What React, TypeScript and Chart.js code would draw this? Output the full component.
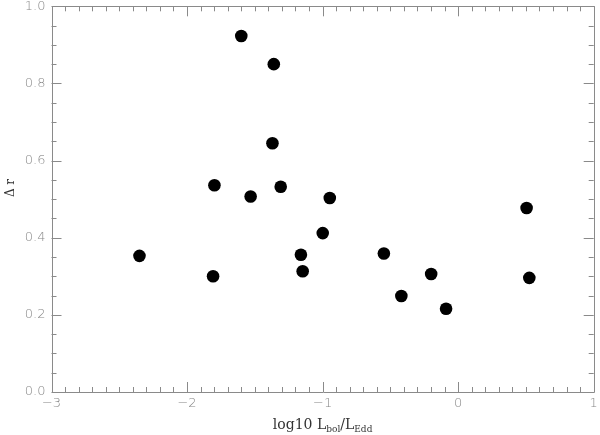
import React, { useEffect, useRef } from "react";
import { Chart, registerables } from "chart.js";

Chart.register(...registerables);

const xValues = [-2.351, -1.808, -1.798, -1.600, -1.531, -1.360, -1.370, -1.309, -1.160, -1.147, -0.999, -0.947, -0.548, -0.419, -0.199, -0.089, 0.505, 0.525];
const yValues = [0.353, 0.300, 0.536, 0.923, 0.507, 0.850, 0.645, 0.532, 0.356, 0.313, 0.412, 0.503, 0.359, 0.249, 0.306, 0.216, 0.477, 0.296];
const xRange = [-3, 1];
const yRange = [0, 1];
const xMajorStep = 1;
const xMinorStep = 0.1;
const yMajorStep = 0.2;
const yMinorStep = 0.05;

const AXIS_COLOR = "#8a8a8a";
const LABEL_COLOR = "#888888";
const TICK_FONT = "200 13px 'DejaVu Sans', sans-serif";

function fmtX(v: number) {
  return String(Math.round(v)).replace("-", "\u2212");
}
function fmtY(v: number) {
  return v.toFixed(1);
}

const framePlugin = {
  id: "idlFrame",
  afterDraw(chart: any) {
    const { ctx, chartArea, scales } = chart;
    const { left, right, top, bottom } = chartArea;
    const xs = scales.x;
    const ys = scales.y;
    ctx.save();
    ctx.strokeStyle = AXIS_COLOR;
    ctx.lineWidth = 1;
    ctx.beginPath();
    ctx.rect(Math.round(left) + 0.5, Math.round(top) + 0.5, Math.round(right - left), Math.round(bottom - top));
    ctx.stroke();
    ctx.beginPath();
    const nx = Math.round((xRange[1] - xRange[0]) / xMinorStep);
    const xEvery = Math.round(xMajorStep / xMinorStep);
    for (let i = 0; i <= nx; i++) {
      const v = xRange[0] + i * xMinorStep;
      const major = i % xEvery === 0;
      const len = major ? 10 : 5;
      const px = Math.round(xs.getPixelForValue(v)) + 0.5;
      ctx.moveTo(px, bottom);
      ctx.lineTo(px, bottom - len);
      ctx.moveTo(px, top);
      ctx.lineTo(px, top + len);
    }
    const ny = Math.round((yRange[1] - yRange[0]) / yMinorStep);
    const yEvery = Math.round(yMajorStep / yMinorStep);
    for (let i = 0; i <= ny; i++) {
      const v = yRange[0] + i * yMinorStep;
      const major = i % yEvery === 0;
      const len = major ? 10 : 5;
      const py = Math.round(ys.getPixelForValue(v)) + 0.5;
      ctx.moveTo(left, py);
      ctx.lineTo(left + len, py);
      ctx.moveTo(right, py);
      ctx.lineTo(right - len, py);
    }
    ctx.stroke();

    // tick labels
    ctx.fillStyle = LABEL_COLOR;
    ctx.font = TICK_FONT;
    ctx.textAlign = "center";
    ctx.textBaseline = "middle";
    for (let i = 0; i <= nx; i += xEvery) {
      const v = xRange[0] + i * xMinorStep;
      ctx.fillText(fmtX(v), xs.getPixelForValue(v), bottom + 12);
    }
    ctx.textAlign = "right";
    for (let i = 0; i <= ny; i += yEvery) {
      const v = yRange[0] + i * yMinorStep;
      ctx.fillText(fmtY(v), left - 6, ys.getPixelForValue(v));
    }

    // x-axis title: log10 L_bol/L_Edd
    ctx.fillStyle = "#333";
    ctx.textAlign = "left";
    ctx.textBaseline = "alphabetic";
    const baseY = 429;
    const parts: [string, boolean][] = [["log10 L", false], ["bol", true], ["/L", false], ["Edd", true]];
    const mainFont = "14px 'DejaVu Serif', serif";
    const subFont = "9px 'DejaVu Serif', serif";
    let total = 0;
    for (const [t, sub] of parts) {
      ctx.font = sub ? subFont : mainFont;
      total += ctx.measureText(t).width;
    }
    let cx = (left + right) / 2 - total / 2;
    for (const [t, sub] of parts) {
      ctx.font = sub ? subFont : mainFont;
      ctx.fillText(t, cx, sub ? baseY + 3 : baseY);
      cx += ctx.measureText(t).width;
    }

    // y-axis title: Δ r
    ctx.save();
    ctx.translate(14, 188);
    ctx.rotate(-Math.PI / 2);
    ctx.font = "12px 'DejaVu Serif', serif";
    ctx.textAlign = "center";
    ctx.fillText("\u0394 r", 0, 0);
    ctx.restore();
    ctx.restore();
  },
};

export default function App() {
  const ref = useRef<HTMLCanvasElement | null>(null);
  useEffect(() => {
    if (!ref.current) return;
    const points = xValues.map((x, i) => ({ x, y: yValues[i] }));
    const chart = new Chart(ref.current, {
      type: "scatter",
      data: {
        datasets: [
          {
            data: points,
            backgroundColor: "#000",
            borderColor: "#000",
            pointRadius: 6.3,
            pointHoverRadius: 6.3,
            borderWidth: 0,
          },
        ],
      },
      options: {
        animation: false,
        responsive: false,
        events: [],
        layout: { padding: { top: 4, right: 3, left: 0, bottom: 0 } },
        plugins: { legend: { display: false }, tooltip: { enabled: false } },
        scales: {
          x: {
            type: "linear",
            min: xRange[0],
            max: xRange[1],
            grid: { display: false },
            border: { display: false },
            ticks: { display: false, stepSize: xMajorStep },
            afterFit(scale: any) {
              scale.height = 43;
            },
          },
          y: {
            type: "linear",
            min: yRange[0],
            max: yRange[1],
            grid: { display: false },
            border: { display: false },
            ticks: { display: false, stepSize: yMajorStep },
            afterFit(scale: any) {
              scale.width = 51.5;
            },
          },
        },
      },
      plugins: [framePlugin],
    });
    return () => chart.destroy();
  }, []);
  return (
    <div style={{ position: "absolute", left: 0, top: 0, width: 600, height: 435, background: "#fff" }}>
      <canvas ref={ref} width={600} height={435} style={{ width: 600, height: 435 }} />
    </div>
  );
}
